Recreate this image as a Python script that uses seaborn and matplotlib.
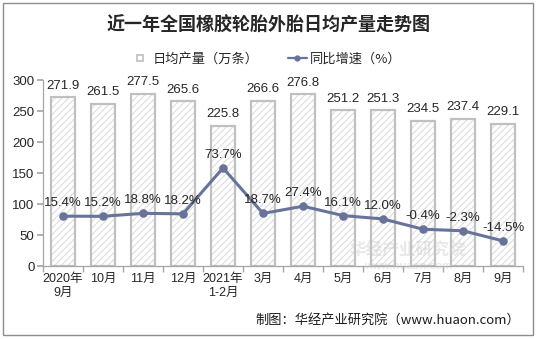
import matplotlib
matplotlib.use("Agg")
import matplotlib.pyplot as plt
import seaborn as sns
import pandas as pd
from matplotlib.colors import to_rgba
from matplotlib.patches import Rectangle
from matplotlib.lines import Line2D

months = ["2020年\n9月", "10月", "11月", "12月", "2021年\n1-2月", "3月", "4月",
          "5月", "6月", "7月", "8月", "9月"]
output = [271.9, 261.5, 277.5, 265.6, 225.8, 266.6, 276.8, 251.2, 251.3, 234.5, 237.4, 229.1]
growth = [15.4, 15.2, 18.8, 18.2, 73.7, 18.7, 27.4, 16.1, 12.0, -0.4, -2.3, -14.5]

sns.set_theme(style="white")
plt.rcParams['font.family'] = ['Liberation Sans', 'Noto Sans CJK SC', 'DejaVu Sans']
plt.rcParams['hatch.linewidth'] = 0.8

df = pd.DataFrame({"month": months, "output": output, "growth": growth})

fig = plt.figure(figsize=(5.37, 3.39), dpi=100)
ax = fig.add_axes([0.080, 0.215, 0.894, 0.549])

sns.barplot(data=df, x="month", y="output", ax=ax, width=0.62,
            color="white", edgecolor="#c0c0c0", linewidth=1.6, saturation=1)
for p in ax.patches:
    p.set_hatch("/////")
    p.set_edgecolor("#c0c0c0")
    p._hatch_color = to_rgba("#dedede")

ax.set_ylim(0, 300)
ax.set_yticks(range(0, 301, 50))
ax.set_xlim(-0.5, len(months) - 0.5)
ax.set_xlabel("")
ax.set_ylabel("")
for s in ["top", "right"]:
    ax.spines[s].set_visible(False)
for s in ["left", "bottom"]:
    ax.spines[s].set_color("#a6a6a6")
    ax.spines[s].set_linewidth(0.9)
ax.tick_params(axis="y", left=True, length=4, color="#a6a6a6", labelsize=9.5,
               labelcolor="#262626", pad=2)
ax.tick_params(axis="x", which="major", length=0, labelsize=9, labelcolor="#262626", pad=5)
ax.set_xticks([i - 0.5 for i in range(len(months) + 1)], minor=True)
ax.tick_params(axis="x", which="minor", bottom=True, length=4, color="#a6a6a6")

for i, v in enumerate(output):
    ax.annotate(f"{v:.1f}", (i, v), xytext=(0, 4), textcoords="offset points",
                ha="center", va="bottom", fontsize=9.5, color="#262626")

ax2 = ax.twinx()
line_color = "#68739a"
sns.pointplot(data=df, x="month", y="growth", ax=ax2, color=line_color,
              markers="o", linewidth=2.2, markersize=4.5)
ax2.set_ylim(-45, 180)
ax2.set_xlim(-0.5, len(months) - 0.5)
ax2.axis("off")
for i, v in enumerate(growth):
    ax2.annotate(f"{v:.1f}%", (i, v), xytext=(0, 5), textcoords="offset points",
                 ha="center", va="bottom", fontsize=9.5, color="#262626")

# legend
h1 = Line2D([], [], marker="s", color="none", markerfacecolor="white",
            markeredgecolor="#bfbfbf", markersize=5, markeredgewidth=1.2)
h2 = Line2D([], [], color=line_color, marker="o", markersize=3.5, linewidth=1.6)
fig.legend([h1, h2], ["日均产量（万条）", "同比增速（%）"], loc="center",
           bbox_to_anchor=(0.495, 0.825), ncol=2, frameon=False,
           handlelength=1.5, handletextpad=0.2, columnspacing=2.2,
           prop={"family": ["Noto Sans CJK SC"], "size": 9.5})

fig.text(0.50, 0.925, "近一年全国橡胶轮胎外胎日均产量走势图", ha="center", va="center",
         fontsize=13, fontweight="bold", color="#262626", family=["Noto Sans CJK SC"])

fig.text(0.968, 0.055, "制图：华经产业研究院（www.huaon.com）", ha="right", va="center",
         fontsize=9.5, color="#1a1a1a", family=["Noto Sans CJK SC", "DejaVu Sans"])

# watermark
fig.text(0.76, 0.262, "华经产业研究院", ha="center", va="center", fontsize=12,
         fontweight="bold", color="#c8c8c8", alpha=0.4, family=["Noto Sans CJK SC"])
fig.text(0.76, 0.215, "www.huaon.com", ha="center", va="center", fontsize=8,
         fontweight="bold", color="#c8c8c8", alpha=0.4)

fig.patches.append(Rectangle((0.006, 0.012), 0.987, 0.978, transform=fig.transFigure,
                             fill=False, edgecolor="#8c8c8c", linewidth=1.0))

fig.savefig("out.png", dpi=100)
